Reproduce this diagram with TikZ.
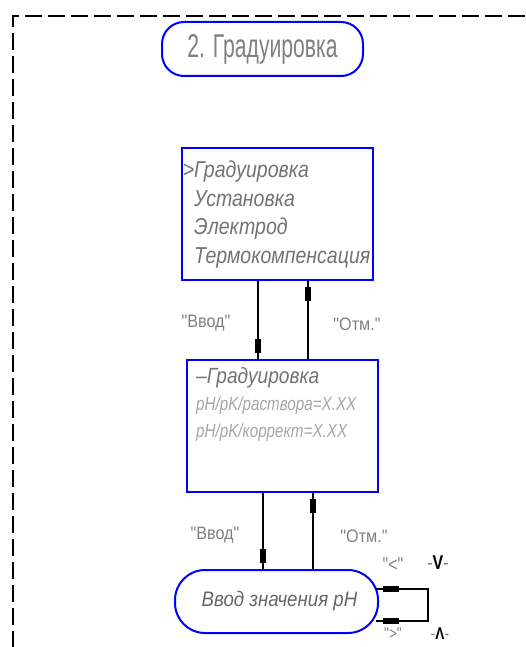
\documentclass[tikz,border=0pt]{standalone}
\usepackage{fontspec}
\setmainfont{Liberation Sans}
\newfontfamily\lcd[FakeStretch=0.8]{Liberation Sans}
\usetikzlibrary{calc,positioning,decorations.markings}
\definecolor{scrblue}{RGB}{0,0,255}

\begin{document}
\begin{tikzpicture}[x=1pt,y=-1pt,
  frame/.style={line width=2pt,dash pattern=on 17pt off 6pt},
  box/.style={draw=scrblue,line width=2pt,minimum width=191pt,minimum height=132pt,inner sep=0pt},
  pill/.style={draw=scrblue,line width=2pt,inner sep=0pt},
  txt/.style={text=black!55,align=left,inner sep=0pt},
  lbl/.style={text=black!50,inner sep=0pt,font=\lcd\addfontfeatures{FakeStretch=0.9}\fontsize{18}{18}\selectfont},
  key/.style={text=black!50,inner sep=0pt,font=\lcd\fontsize{20}{20}\selectfont},
  blk/.style={fill=black},
  link/.style={line width=2pt,postaction={decorate},decoration={markings,
      mark=at position -13pt with {\fill[blk] (-7pt,-3pt) rectangle (7pt,3pt);}}},
  loopln/.style={line width=2pt,postaction={decorate},decoration={markings,
      mark=at position 15pt with {\fill[blk] (-8pt,-3pt) rectangle (8pt,3pt);},
      mark=at position -15pt with {\fill[blk] (-8pt,-3pt) rectangle (8pt,3pt);}}}]
  \useasboundingbox (0,0) rectangle (525,647);
  \draw[frame] (525,16) -| (13,647);

  % title
  \node[pill,rounded corners=22pt,minimum width=201pt,minimum height=54pt,text=black!50,
        font=\lcd\addfontfeatures{FakeStretch=0.64}\fontsize{33}{33}\selectfont] (title) at (262.5,49) {2. Градуировка};

  % menu boxes
  \node[box] (menu) at (277.5,214) {};
  \node[txt,anchor=north west,font=\lcd\addfontfeatures{FakeStretch=0.85}\itshape\fontsize{23}{28.5}\selectfont] (menutxt) at (194,161)
    {\llap{>}Градуировка\\Установка\\Электрод\\Термокомпенсация};
  \node[box] (calib) at (282.5,426) {};
  \node[txt,anchor=north west,font=\lcd\itshape\fontsize{19}{27}\selectfont] (calibtxt) at (196,367)
    {{\addfontfeatures{FakeStretch=0.87}\fontsize{22}{27}\selectfont –Градуировка}\\{\color{black!35}pH/pK/раствора=X.XX}\\{\color{black!35}pH/pK/коррект=X.XX}};

  % input
  \node[pill,rounded corners=30pt,minimum width=203pt,minimum height=63pt,text=black!60,
        font=\lcd\addfontfeatures{FakeStretch=0.89}\itshape\fontsize{21}{21}\selectfont] (phin) at (276.5,601.5) {\hspace*{6pt}Ввод значения pH};

  \coordinate (m1) at ([xshift=-20pt]menu.south);
  \coordinate (m2) at ([xshift=30pt]menu.south);
  \coordinate (c1) at ([xshift=-20pt]calib.south);
  \coordinate (c2) at ([xshift=30pt]calib.south);
  \draw[link] (m1) -- (m1 |- calib.north);
  \draw[link] (m2 |- calib.north) -- (m2);
  \draw[link] (c1) -- (c1 |- phin.north);
  \draw[link] (c2 |- phin.north) -- (c2);
  \draw[loopln] ([shift={(-3pt,13pt)}]phin.east) -- ++(52pt,0pt) |- ([shift={(-3pt,-19pt)}]phin.east);

  \node[lbl] (in1) at (206,323) {"Ввод"};
  \node[lbl] (esc1) at (357,324) {"Отм."};
  \node[lbl] (in2) at (215,535) {"Ввод"};
  \node[lbl] (esc2) at (364,536) {"Отм."};
  \node[key] (left) at (393,565) {"<"};
  \node[key] (up) at (438,563) {-\textcolor{black}{\textbf{V}}-};
  \node[key,font=\lcd\fontsize{17}{17}\selectfont] (right) at (393,634) {">"};
  \node[key,font=\lcd\fontsize{17}{17}\selectfont] (down) at (440,634) {-\textcolor{black}{\textbf{Λ}}-};
\end{tikzpicture}
\end{document}
